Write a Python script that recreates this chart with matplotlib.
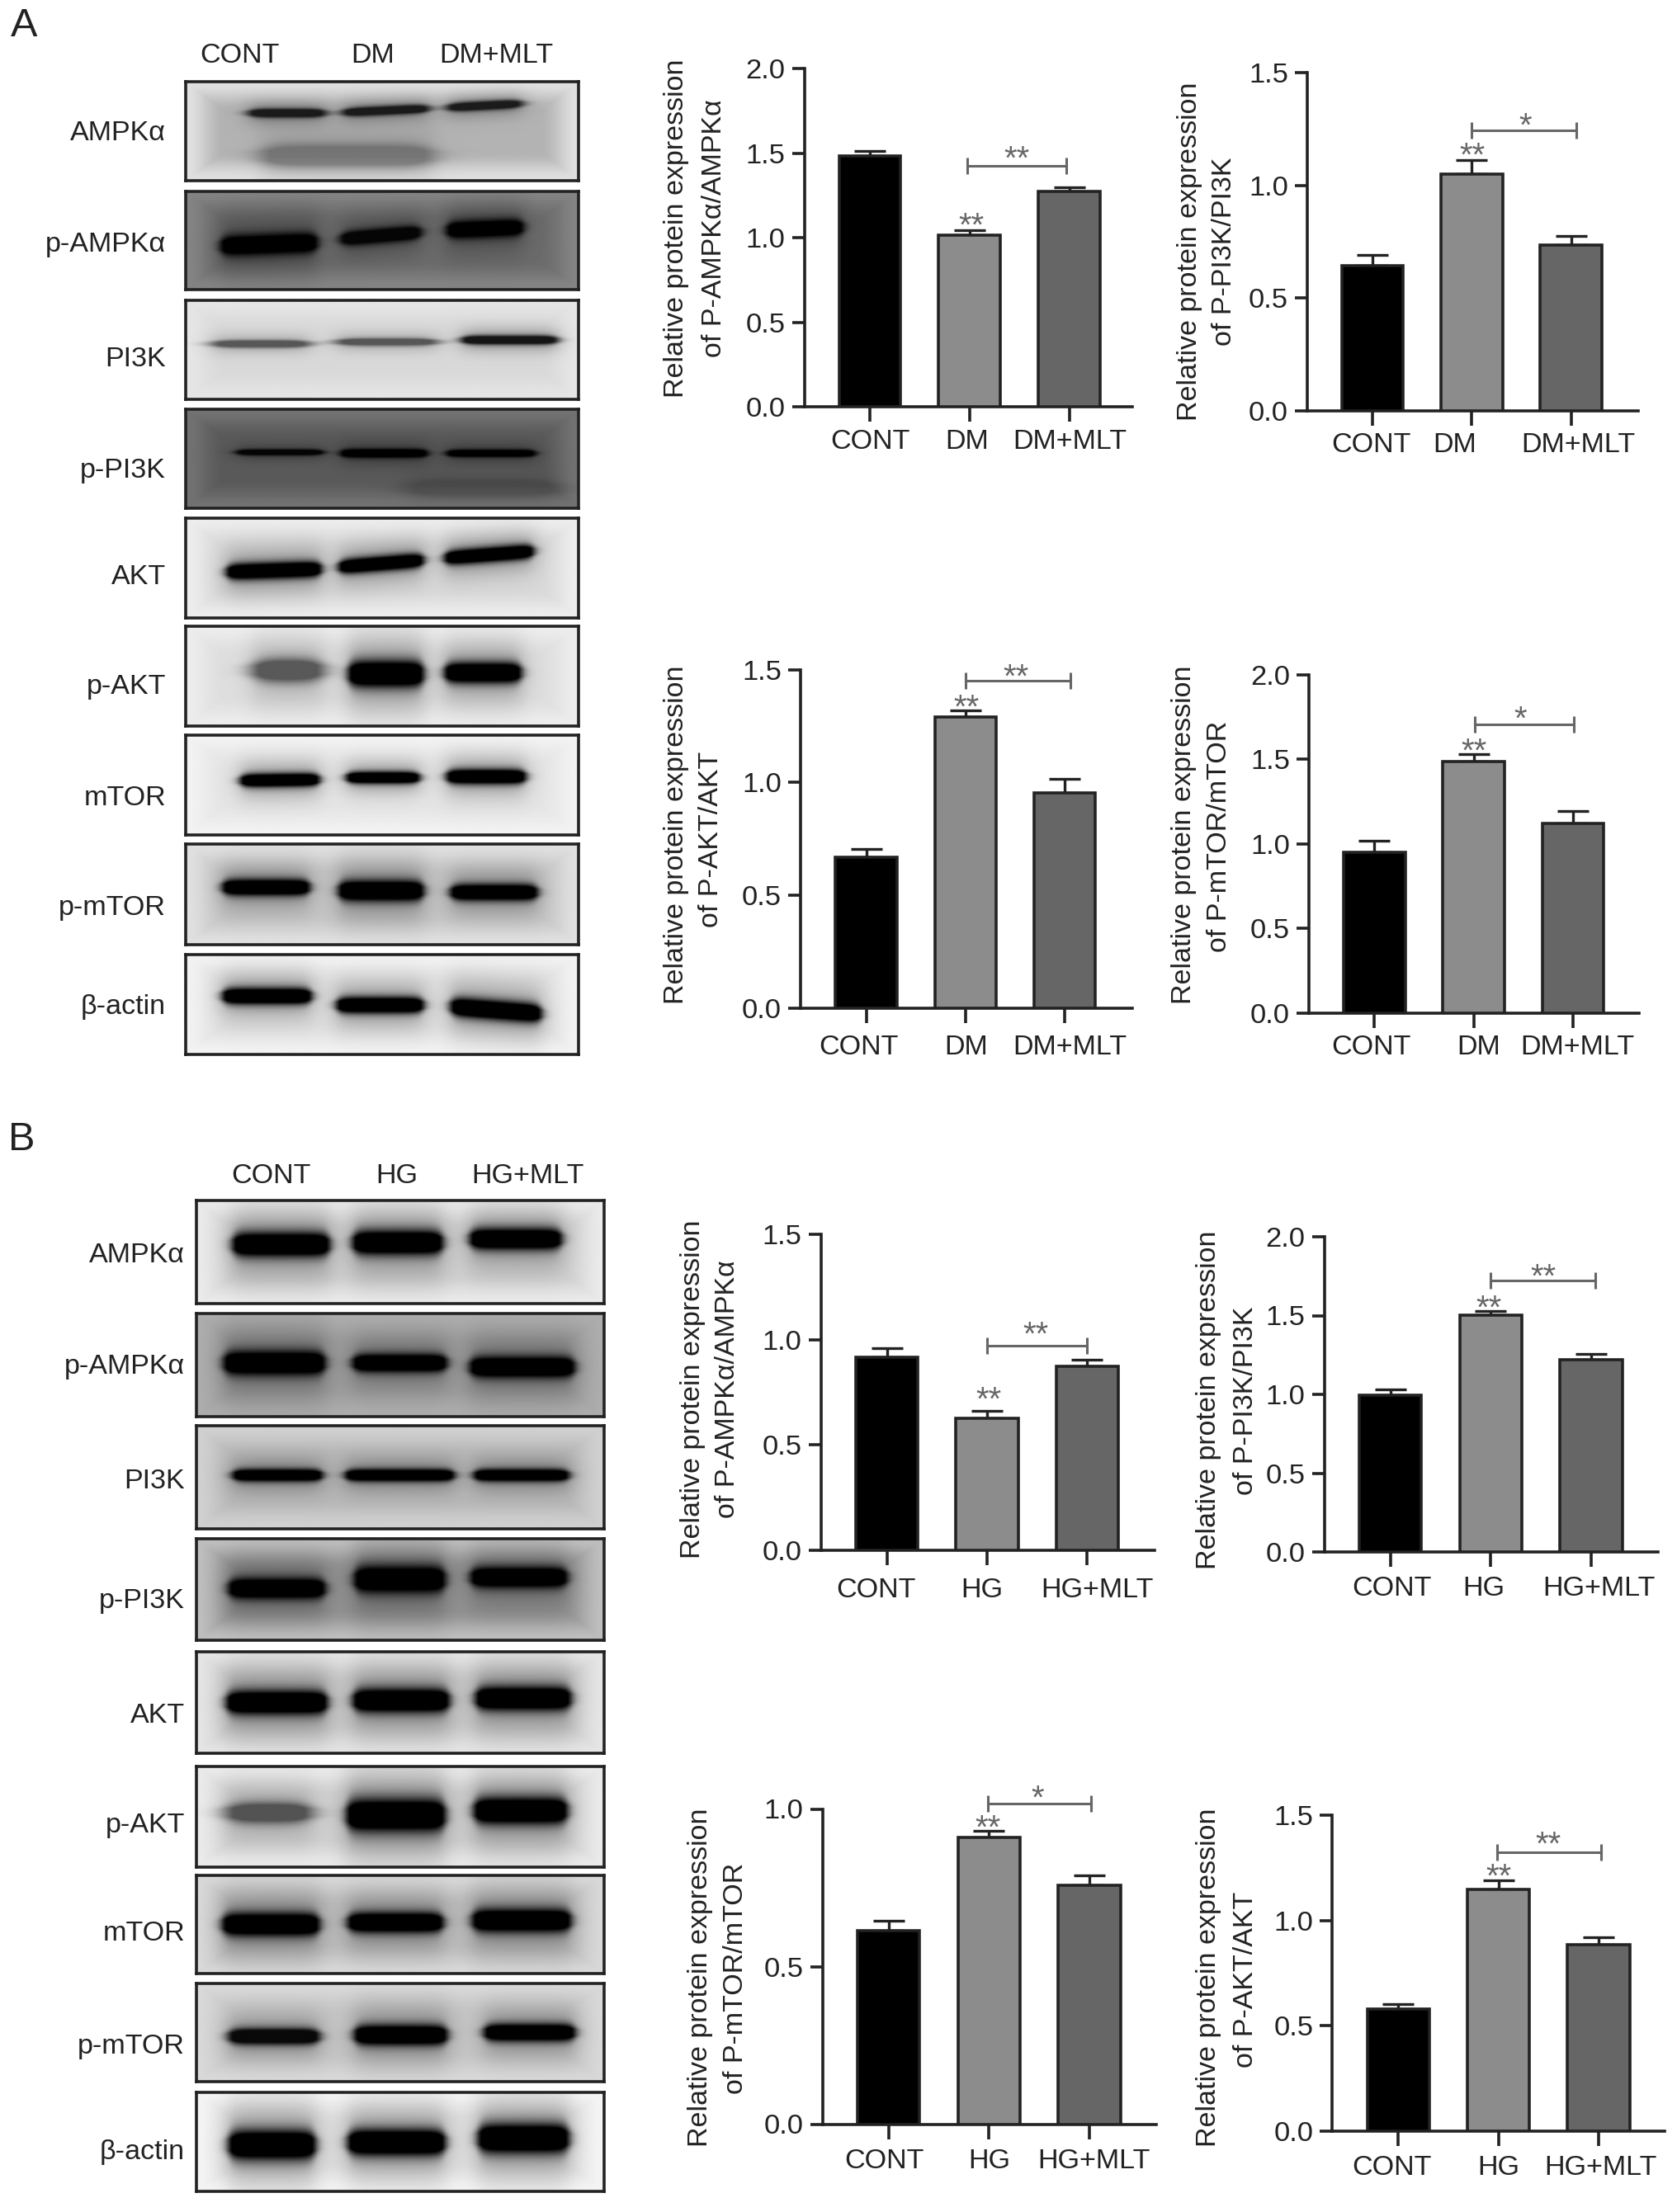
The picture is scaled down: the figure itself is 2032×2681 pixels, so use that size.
import numpy as np
import matplotlib
matplotlib.use("Agg")
import matplotlib.pyplot as plt

# whole figure is laid out in pixels of the 2032x2681 reference
W, H = 2032, 2681
FONT = ['Liberation Sans', 'DejaVu Sans']
plt.rcParams['font.family'] = FONT
plt.rcParams['mathtext.default'] = 'regular'

INK = '#222222'
BAR_COLORS = ['#000000', '#8c8c8c', '#666666']
STAR_COLOR = '#666666'

# ---- values
A_GROUPS = ['CONT', 'DM', 'DM+MLT']
B_GROUPS = ['CONT', 'HG', 'HG+MLT']

A1_MEANS = [1.483, 1.014, 1.276]
A1_TOPS = [1.515, 1.043, 1.300]
A2_MEANS = [0.644, 1.051, 0.735]
A2_TOPS = [0.692, 1.114, 0.777]
A3_MEANS = [0.670, 1.290, 0.955]
A3_TOPS = [0.706, 1.318, 1.015]
A4_MEANS = [0.952, 1.487, 1.122]
A4_TOPS = [1.017, 1.532, 1.195]
B1_MEANS = [0.916, 0.625, 0.871]
B1_TOPS = [0.958, 0.660, 0.906]
B2_MEANS = [0.993, 1.505, 1.220]
B2_TOPS = [1.030, 1.531, 1.259]
B3_MEANS = [0.614, 0.909, 0.757]
B3_TOPS = [0.644, 0.931, 0.788]
B4_MEANS = [0.579, 1.147, 0.885]
B4_TOPS = [0.602, 1.193, 0.921]

TICKS_2 = [0.0, 0.5, 1.0, 1.5, 2.0]
TICKS_15 = [0.0, 0.5, 1.0, 1.5]
TICKS_1 = [0.0, 0.5, 1.0]

Y_TITLE = 'Relative protein expression'
A1_LABEL = 'of P-AMPK\u03b1/AMPK\u03b1'
A2_LABEL = 'of P-PI3K/PI3K'
A3_LABEL = 'of P-AKT/AKT'
A4_LABEL = 'of P-mTOR/mTOR'

# name, groups, means, error tops, y ticks, y label, bracket (from, to, y),
# bracket stars (text, x, y), stars over the middle bar (x, y)
CHARTS = [
    dict(groups=A_GROUPS, means=A1_MEANS, tops=A1_TOPS, ticks=TICKS_2, label=A1_LABEL,
         bracket=(0.98, 1.97, 1.426), stars=('**', 1.47, 1.515), mid=(1.02, 1.119)),
    dict(groups=A_GROUPS, means=A2_MEANS, tops=A2_TOPS, ticks=TICKS_15, label=A2_LABEL,
         bracket=(1.0, 2.05, 1.245), stars=('*', 1.54, 1.30), mid=(1.007, 1.168)),
    dict(groups=A_GROUPS, means=A3_MEANS, tops=A3_TOPS, ticks=TICKS_15, label=A3_LABEL,
         bracket=(1.0, 2.06, 1.452), stars=('**', 1.507, 1.50), mid=(1.007, 1.367)),
    dict(groups=A_GROUPS, means=A4_MEANS, tops=A4_TOPS, ticks=TICKS_2, label=A4_LABEL,
         bracket=(1.01, 2.007, 1.709), stars=('*', 1.466, 1.785), mid=(1.0, 1.595)),
    dict(groups=B_GROUPS, means=B1_MEANS, tops=B1_TOPS, ticks=TICKS_15, label=A1_LABEL,
         bracket=(1.0, 2.0, 0.971), stars=('**', 1.484, 1.062), mid=(1.02, 0.749)),
    dict(groups=B_GROUPS, means=B2_MEANS, tops=B2_TOPS, ticks=TICKS_2, label=A2_LABEL,
         bracket=(1.0, 2.04, 1.722), stars=('**', 1.527, 1.797), mid=(0.984, 1.597)),
    dict(groups=B_GROUPS, means=B3_MEANS, tops=B3_TOPS, ticks=TICKS_1, label=A4_LABEL,
         bracket=(0.987, 2.02, 1.018), stars=('*', 1.48, 1.059), mid=(0.987, 0.964)),
    dict(groups=B_GROUPS, means=B4_MEANS, tops=B4_TOPS, ticks=TICKS_15, label=A3_LABEL,
         bracket=(0.987, 2.02, 1.324), stars=('**', 1.50, 1.398), mid=(1.0, 1.245)),
]

# layout of each chart, pixels: axis x, right end, top tick y, zero y, first tick x,
# tick spacing, x label centres, x label y, y title x / y, y label x / y
LAYOUT = [
    (974.5, 1372, 83.2, 493.4, 1054, 120.9, (1054.8, 1171.5, 1296), 535, (819.5, 277), (865, 277)),
    (1584, 1985, 88.1, 497.8, 1663, 120.3, (1661, 1763, 1912.8), 540, (1441.5, 305), (1483, 305)),
    (969.8, 1372, 811.5, 1222.1, 1049.7, 120.2, (1040.2, 1170.7, 1296), 1270, (819.5, 1012), (861, 1017)),
    (1585.8, 1986, 818, 1227.8, 1665.3, 120.4, (1661, 1791.5, 1910.9), 1270, (1434.8, 1012), (1477, 1014)),
    (994.5, 1399, 1495.8, 1878.9, 1074.8, 121.2, (1061, 1189.5, 1329.9), 1927, (839.5, 1684), (881, 1684)),
    (1604.5, 2009, 1499, 1881, 1684.8, 121.6, (1686.8, 1797.5, 1937.9), 1925, (1465, 1697), (1509, 1698)),
    (996.5, 1401, 2192.5, 2574.5, 1076.8, 121.6, (1071.3, 1198.6, 1325.9), 2620, (848, 2397), (891, 2398)),
    (1614.4, 2017, 2200.4, 2582.8, 1694.3, 121.4, (1686.8, 1815.3, 1939.9), 2627, (1465, 2397), (1509, 2399)),
]

# ---- blots. bands are (x0, x1, y at x0, y at x1, sigma, darkness) as fractions of the blot
A_BLOT_NAMES = ['AMPK\u03b1', 'p-AMPK\u03b1', 'PI3K', 'p-PI3K', 'AKT', 'p-AKT', 'mTOR', 'p-mTOR', '\u03b2-actin']
A_BLOT_TOPS = [99, 231.5, 364, 495.8, 627.8, 758.8, 891, 1023.3, 1156.9]
A_BLOT_BOTTOMS = [219, 351.4, 484, 615.7, 748.8, 880.2, 1012.4, 1144.7, 1278.3]
A_LABEL_Y = [162, 296.7, 435.6, 570, 700, 832.5, 968, 1101, 1220.6]
A_BLOT_BG = [(0.70, 0.88), (0.42, 0.52), (0.85, 0.90), (0.35, 0.45), (0.85, 0.93),
             (0.87, 0.93), (0.90, 0.95), (0.78, 0.88), (0.88, 0.95)]
A_BLOT_BANDS = [
    [(.158, .357, .316, .316, .03, .85), (.397, .62, .31, .27, .03, .85), (.663, .857, .26, .22, .03, .85),
     (.19, .63, .75, .75, .08, .35)],
    [(.087, .336, .56, .525, .07, 1), (.392, .60, .49, .42, .05, .95), (.662, .86, .40, .37, .06, 1)],
    [(.066, .316, .44, .44, .025, .6), (.382, .64, .42, .42, .025, .6), (.70, .947, .40, .40, .03, .9)],
    [(.127, .351, .435, .435, .02, .95), (.392, .616, .445, .445, .03, 1), (.662, .891, .445, .445, .025, 1),
     (.56, .95, .80, .80, .06, .2)],
    [(.102, .346, .54, .51, .055, 1), (.387, .606, .49, .42, .05, 1), (.657, .886, .40, .33, .05, 1)],
    [(.168, .351, .446, .446, .08, .6), (.412, .606, .482, .482, .09, 1), (.657, .855, .47, .47, .07, 1)],
    [(.137, .341, .46, .45, .045, 1), (.407, .596, .43, .43, .04, 1), (.662, .866, .42, .42, .05, 1)],
    [(.092, .316, .43, .43, .055, 1), (.387, .606, .464, .464, .07, 1), (.672, .896, .48, .48, .055, 1)],
    [(.092, .321, .42, .42, .055, 1), (.382, .606, .51, .51, .055, 1), (.672, .906, .525, .596, .065, 1)],
]

B_BLOT_NAMES = A_BLOT_NAMES
B_BLOT_TOPS = [1455, 1592, 1728, 1865, 2002, 2141, 2273, 2404, 2536]
B_BLOT_BOTTOMS = [1580, 1717, 1853, 1988, 2125, 2263, 2392, 2523, 2656]
B_LABEL_Y = [1522, 1656, 1796, 1941, 2079, 2213, 2344, 2481, 2609]
B_BLOT_BG = [(0.82, 0.92), (0.62, 0.68), (0.72, 0.82), (0.58, 0.75), (0.80, 0.90),
             (0.82, 0.92), (0.75, 0.85), (0.78, 0.85), (0.88, 0.96)]
B_BLOT_BANDS = [
    [(.087, .328, .427, .427, .08, 1), (.382, .606, .408, .408, .08, 1), (.67, .898, .373, .373, .07, 1)],
    [(.065, .317, .48, .48, .08, 1), (.382, .616, .48, .48, .06, 1), (.67, .93, .52, .52, .07, 1)],
    [(.087, .31, .48, .48, .04, 1), (.364, .634, .48, .48, .04, 1), (.68, .916, .48, .48, .04, 1)],
    [(.077, .317, .49, .49, .07, 1), (.386, .612, .40, .40, .09, 1), (.672, .912, .38, .38, .07, 1)],
    [(.072, .322, .50, .50, .08, 1), (.383, .622, .48, .48, .08, 1), (.684, .921, .46, .46, .08, 1)],
    [(.072, .283, .46, .46, .07, .6), (.367, .612, .485, .485, .11, 1), (.68, .912, .44, .44, .09, 1)],
    [(.062, .303, .50, .50, .08, 1), (.37, .607, .48, .48, .07, 1), (.676, .921, .46, .46, .08, 1)],
    [(.077, .303, .54, .54, .055, .95), (.386, .617, .526, .526, .07, 1), (.705, .931, .50, .50, .06, 1)],
    [(.077, .293, .535, .535, .1, 1), (.37, .612, .51, .51, .09, 1), (.69, .916, .47, .47, .1, 1)],
]


def px_axes(fig, left, top, right, bottom):
    return fig.add_axes([left / W, 1 - bottom / H, (right - left) / W, (bottom - top) / H])


def px_text(fig, x, y, text, **kwargs):
    kwargs.setdefault('fontsize', 24.6)
    kwargs.setdefault('color', INK)
    kwargs.setdefault('va', 'center')
    kwargs.setdefault('ha', 'center')
    return fig.text(x / W, 1 - y / H, text, **kwargs)


def blot_image(bg, bands, rows=130, cols=500):
    ys, xs = np.mgrid[0:1:rows * 1j, 0:1:cols * 1j]
    # background turns to the edge level close to the frame
    edge_dist = np.minimum(np.minimum(xs, 1 - xs) * 3, np.minimum(ys, 1 - ys))
    ramp = np.clip(edge_dist / 0.3, 0, 1)
    ramp = ramp * ramp * (3 - 2 * ramp)
    level = bg[1] + (bg[0] - bg[1]) * ramp
    shade = np.ones_like(xs)
    for x0, x1, y0, y1, sigma, dark in bands:
        # fainter smears get softer ends
        soft = 0.014 + 0.05 * (1 - dark)
        mask = 0.5 * (np.tanh((xs - x0) / soft) - np.tanh((xs - x1) / soft))
        centre = y0 + (y1 - y0) * (xs - x0) / (x1 - x0)
        # bands taper towards their ends
        dist = (ys - centre) / (sigma * (0.5 + 0.5 * mask))
        core = np.clip(1.3 * np.exp(-dist ** 2 / 2), 0, 1)
        halo = 0.32 * np.exp(-((ys - centre) / (sigma * 3)) ** 2 / 2)
        soft_mask = 0.5 * (np.tanh((xs - x0) / 0.03) - np.tanh((xs - x1) / 0.03))
        shade *= 1 - dark * np.clip(mask * core + soft_mask * halo, 0, 1)
    return level * shade


def draw_blots(fig, left, right, names, tops, bottoms, label_right, label_y, backgrounds, bands):
    for i, name in enumerate(names):
        ax = px_axes(fig, left, tops[i], right, bottoms[i])
        ax.imshow(blot_image(backgrounds[i], bands[i]), cmap='gray', vmin=0, vmax=1,
                  extent=(0, 1, 1, 0), aspect='auto', interpolation='bilinear')
        ax.set_xticks([])
        ax.set_yticks([])
        for spine in ax.spines.values():
            spine.set_linewidth(2.6)
            spine.set_color(INK)
        px_text(fig, label_right, label_y[i], name, ha='right')


def draw_stars(ax, x, y, text):
    # the asterisk sits high in its em box, so pull the baseline down to centre it on y
    ax.annotate(text, xy=(x, y), xytext=(0, -15.5), textcoords='offset points',
                ha='center', va='baseline', fontsize=29, color=STAR_COLOR, annotation_clip=False)


def draw_chart(fig, chart, layout):
    left, right, top, bottom, first, step, label_x, label_y, title_pos, sub_pos = layout
    ax = px_axes(fig, left, top, right, bottom)
    xs = [0, 1, 2]
    ax.set_xlim((left - first) / step, (right - first) / step)
    ax.set_ylim(0, chart['ticks'][-1])

    errs = [t - m for t, m in zip(chart['tops'], chart['means'])]
    ax.errorbar(xs, chart['means'], yerr=[[0, 0, 0], errs], fmt='none', ecolor=INK,
                elinewidth=2.4, capsize=14, capthick=2.4, clip_on=False, zorder=2)
    ax.bar(xs, chart['means'], width=0.62, color=BAR_COLORS, edgecolor=INK, linewidth=2.6, zorder=3)

    x0, x1, by = chart['bracket']
    ax.plot([x0, x1], [by, by], color=STAR_COLOR, lw=2.2, marker='|', markersize=15,
            markeredgewidth=2.2, clip_on=False)
    text, sx, sy = chart['stars']
    draw_stars(ax, sx, sy, text)
    draw_stars(ax, chart['mid'][0], chart['mid'][1], '**')

    for side in ['top', 'right']:
        ax.spines[side].set_visible(False)
    for side in ['left', 'bottom']:
        ax.spines[side].set_linewidth(2.6)
        ax.spines[side].set_color(INK)
    ax.set_xticks(xs)
    ax.set_xticklabels([])
    ax.tick_params(axis='x', length=13, width=2.6, color=INK)
    ax.set_yticks(chart['ticks'])
    ax.set_yticklabels([f'{t:.1f}' for t in chart['ticks']])
    ax.tick_params(axis='y', length=10.5, width=2.6, color=INK, labelsize=24.8, labelcolor=INK, pad=6)

    for x, name in zip(label_x, chart['groups']):
        px_text(fig, x, label_y, name)
    px_text(fig, title_pos[0], title_pos[1], Y_TITLE, rotation=90, fontsize=24.5)
    px_text(fig, sub_pos[0], sub_pos[1], chart['label'], rotation=90, fontsize=24.5)


def main():
    fig = plt.figure(figsize=(W / 100, H / 100), dpi=100, facecolor='white')

    px_text(fig, 29, 31.6, 'A', fontsize=35)
    px_text(fig, 26, 1382, 'B', fontsize=35)

    for x, name in zip((290, 452, 601), A_GROUPS):
        px_text(fig, x, 68, name)
    for x, name in zip((328, 481, 639), B_GROUPS):
        px_text(fig, x, 1425, name)

    draw_blots(fig, 225.4, 701.4, A_BLOT_NAMES, A_BLOT_TOPS, A_BLOT_BOTTOMS, 201, A_LABEL_Y, A_BLOT_BG, A_BLOT_BANDS)
    draw_blots(fig, 238, 732, B_BLOT_NAMES, B_BLOT_TOPS, B_BLOT_BOTTOMS, 224, B_LABEL_Y, B_BLOT_BG, B_BLOT_BANDS)

    for chart, layout in zip(CHARTS, LAYOUT):
        draw_chart(fig, chart, layout)

    fig.savefig('out.png', dpi=100)


main()
